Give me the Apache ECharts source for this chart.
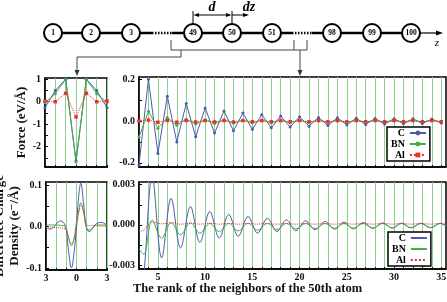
<!DOCTYPE html>
<html>
<head>
<meta charset="utf-8">
<script src="https://cdn.jsdelivr.net/npm/echarts@6/dist/echarts.min.js"></script>
<style>
html, body { margin: 0; padding: 0; background: #fff; }
#chart { width: 447px; height: 302px; }
</style>
</head>
<body>
<div id="chart"></div>
<script>
// ---- data ----
// force on the neighbours, rank relative to the 50th atom (left panels)
const nearRank = [-3, -2, -1, 0, 1, 2, 3];
const forceNearC = [-0.27, 0.5, 1.0, -2.62, 1.0, 0.5, -0.27];
const forceNearBN = [-0.05, 0.35, 1.0, -2.68, 1.0, 0.35, -0.05];
const forceNearAl = [0.03, 0.0, 0.37, -0.68, 0.37, 0.0, 0.03];

// force on far neighbours (right panel)
const farRank = [3, 4, 5, 6, 7, 8, 9, 10, 11, 12, 13, 14, 15, 16, 17, 18, 19, 20, 21, 22, 23, 24, 25, 26, 27, 28, 29, 30, 31, 32, 33, 34, 35];
const forceFarC = [-0.21, 0.199, -0.155, 0.118, -0.100, 0.083, -0.076, 0.062, -0.058, 0.048, -0.047, 0.038, -0.040, 0.030, -0.033, 0.024, -0.029, 0.020, -0.025, 0.017, -0.022, 0.015, -0.019, 0.013, -0.017, 0.012, -0.015, 0.011, -0.013, 0.010, -0.012, 0.009, -0.010];
const forceFarBN = [-0.077, 0.046, -0.035, 0.016, -0.021, 0.008, -0.015, 0.005, -0.012, 0.004, -0.010, 0.003, -0.009, 0.003, -0.008, 0.002, -0.007, 0.002, -0.007, 0.002, -0.006, 0.002, -0.006, 0.002, -0.005, 0.002, -0.005, 0.002, -0.005, 0.002, -0.004, 0.002, -0.004];
const forceFarAl = [0.0, 0.004, -0.006, 0.002, -0.006, 0.002, -0.005, 0.002, -0.005, 0.002, -0.005, 0.002, -0.004, 0.002, -0.004, 0.002, -0.004, 0.002, -0.004, 0.002, -0.004, 0.002, -0.004, 0.002, -0.004, 0.002, -0.004, 0.002, -0.004, 0.002, -0.004, 0.002, -0.004];

// difference charge density near the 50th atom
const chargeNearX = [-3, -2.6, -2.2, -1.6, -1.1, -0.8, -0.5, -0.25, 0, 0.2, 0.42, 0.7, 0.95, 1.25, 1.6, 2.0, 2.5, 3];
const chargeNearC = [-0.002, -0.006, 0.0, 0.014, 0.002, -0.055, -0.1, -0.065, 0.0, 0.07, 0.105, 0.055, 0.0, -0.012, -0.004, 0.008, 0.01, 0.002];
const chargeNearBN = [0.004, 0.004, 0.004, 0.003, 0.0, -0.025, -0.046, -0.03, 0.012, 0.035, 0.058, 0.035, 0.0, -0.008, -0.002, 0.004, 0.004, 0.003];
const chargeNearAl = [0.0, -0.001, -0.002, -0.003, -0.006, -0.025, -0.042, -0.03, 0.0, 0.03, 0.053, 0.035, 0.006, 0.002, 0.003, 0.002, 0.001, 0.0];

// difference charge density far away (extrema)
const chargeFarX = [3, 3.5, 4.4, 5.4, 6.4, 7.4, 8.45, 9.45, 10.5, 11.5, 12.5, 13.5, 14.55, 15.55, 16.6, 17.6, 18.6, 19.6, 20.65, 21.65, 22.7, 23.7, 24.7, 25.7, 26.75, 27.75, 28.8, 29.8, 30.8, 31.8, 32.85, 33.85, 34.9, 35.5];
const chargeFarC = [-0.006, -0.0038, 0.0036, -0.00247, 0.00198, -0.00173, 0.00136, -0.00131, 0.00099, -0.00099, 0.00079, -0.00086, 0.00062, -0.00062, 0.00049, -0.0005, 0.00037, -0.00044, 0.0003, -0.00037, 0.00025, -0.00032, 0.0002, -0.0003, 0.00017, -0.00027, 0.00015, -0.00025, 0.00013, -0.00023, 0.00012, -0.00022, 0.00012, -0.0001];
const chargeFarBN = [-0.0018, -0.0022, 0.00035, -0.001, 0.00017, -0.00075, 0.00015, -0.00062, 0.0001, -0.0005, 0.0001, -0.00045, 0.0001, -0.0004, 0.0001, -0.00035, 0.0001, -0.0003, 0.0001, -0.00028, 0.0001, -0.00026, 0.0001, -0.00025, 0.0001, -0.00024, 0.0001, -0.00023, 0.0001, -0.00022, 0.0001, -0.00021, 0.0001, -0.0001];
const chargeFarAl = [-0.0005, -0.0004, 0.0002, 0.00008, 0.00015, 0.00005, 0.00012, 0.00005, 0.00012, 0.00005, 0.0001, 0.00005, 0.0001, 0.00005, 0.0001, 0.00005, 0.0001, 0.00005, 0.0001, 0.00005, 0.0001, 0.00005, 0.0001, 0.00005, 0.0001, 0.00005, 0.0001, 0.00005, 0.0001, 0.00005, 0.0001, 0.00005, 0.0001, 0.00005];

// tick labels
const nearLabelTicks = [-3, 0, 3];
const farLabelTicks = [5, 10, 15, 20, 25, 30, 35];
const forceNearTicks = [-2, -1, 0, 1];
const forceFarTicks = [-0.2, 0, 0.2];
const chargeNearTicks = [-0.1, 0, 0.1];
const chargeFarTicks = [-0.003, 0, 0.003];

const atomLabels = ['1', '2', '3', '49', '50', '51', '98', '99', '100'];

// ---- style ----
const FONT = '"Liberation Serif", "DejaVu Serif", serif';
const COL_C = '#4b5bab';
const COL_BN = '#44ae44';
const COL_AL = '#e8322e';
const COL_GRID = '#8ed08e';

const pairs = (xs, ys) => xs.map((x, i) => [x, ys[i]]);

const labelStyle = { fontFamily: FONT, fontWeight: 'bold', fontSize: 10, color: '#111' };

// green lines sit on every atom position, so the ticks go on every integer
function xAx(grid, min, max, ranks, labels) {
    return {
        type: 'value', gridIndex: grid, min: min, max: max, interval: 1,
        axisLine: { show: true, onZero: false, lineStyle: { color: '#000', width: 1.5 } },
        axisTick: { show: true, inside: true, length: 2, customValues: ranks, lineStyle: { color: '#000' } },
        axisLabel: labels ? Object.assign({ show: true, margin: 3, customValues: labels, showMinLabel: true, showMaxLabel: true,
            formatter: v => String(Math.abs(v)) }, labelStyle) : { show: false },
        splitLine: { show: true, lineStyle: { color: COL_GRID, width: 1 } }
    };
}

function yAx(grid, min, max, labels, digits, minor, name, nameGap) {
    const ax = {
        type: 'value', gridIndex: grid, min: min, max: max,
        axisLine: { show: true, onZero: false, lineStyle: { color: '#000', width: 1.5 } },
        axisTick: { show: true, inside: true, length: 3, customValues: minor, lineStyle: { color: '#000' } },
        axisLabel: Object.assign({ margin: 4, customValues: labels, formatter: v => v.toFixed(digits) }, labelStyle),
        splitLine: { show: false }
    };
    if (name) {
        ax.name = name;
        ax.nameLocation = 'middle';
        ax.nameRotate = 90;
        ax.nameGap = nameGap;
        ax.nameTextStyle = { fontFamily: FONT, fontWeight: 'bold', fontSize: 13, color: '#111', lineHeight: 15 };
    }
    return ax;
}

function lineSeries(name, xi, data, color, marker, dotted, smooth) {
    return {
        name: name, type: 'line', xAxisIndex: xi, yAxisIndex: xi, data: data,
        symbol: marker || 'none', symbolSize: marker === 'rect' ? 3.5 : 3,
        showSymbol: !!marker, smooth: smooth || false,
        lineStyle: { color: color, width: 1, type: dotted ? 'dotted' : 'solid' },
        itemStyle: { color: color },
        emphasis: { disabled: true },
        clip: true
    };
}

// ---- top schematic (chain of atoms) ----
const atomX = [53, 91, 131, 193, 232, 272, 332, 372, 411];
const chainY = 33;
const thin = { stroke: '#444', lineWidth: 1 };
const graphic = [];
function seg(x1, y1, x2, y2, style) {
    graphic.push({ type: 'line', shape: { x1, y1, x2, y2 }, style: style, silent: true });
}
function head(pts, fill) {
    graphic.push({ type: 'polygon', shape: { points: pts }, style: { fill: fill || '#000' }, silent: true });
}
const bond = { stroke: '#000', lineWidth: 2.5 };
const bondDot = { stroke: '#000', lineWidth: 2.5, lineDash: [1.5, 1.5] };
seg(53, chainY, 152, chainY, bond);
seg(152, chainY, 172, chainY, bondDot);
seg(172, chainY, 292, chainY, bond);
seg(292, chainY, 312, chainY, bondDot);
seg(312, chainY, 421, chainY, bond);
seg(421, chainY, 437, chainY, { stroke: '#000', lineWidth: 1.2 });
head([[443, chainY], [436, chainY - 2.5], [436, chainY + 2.5]]);
graphic.push({ type: 'text', x: 437, y: 43, silent: true,
    style: { text: 'z', font: 'italic 11px ' + FONT, fill: '#000', align: 'center', verticalAlign: 'middle' } });
atomX.forEach((x, i) => {
    graphic.push({ type: 'circle', shape: { cx: x, cy: chainY, r: 9 }, z: 10, silent: true,
        style: { fill: '#fff', stroke: '#000', lineWidth: 2 } });
    graphic.push({ type: 'text', x: x, y: chainY, z: 11, silent: true,
        style: { text: atomLabels[i], font: 'bold 7.5px ' + FONT, fill: '#000', align: 'center', verticalAlign: 'middle' } });
});
// d and dz markers
seg(193, 11, 193, 24, { stroke: '#000', lineWidth: 1 });
seg(232, 11, 232, 24, { stroke: '#000', lineWidth: 1 });
seg(197, 15, 228, 15, { stroke: '#000', lineWidth: 1 });
head([[193.5, 15], [199, 13], [199, 17]]);
head([[231.5, 15], [226, 13], [226, 17]]);
seg(232, 15, 244, 15, { stroke: '#000', lineWidth: 1 });
head([[249, 15], [243, 13], [243, 17]]);
graphic.push({ type: 'text', x: 212, y: 7, silent: true,
    style: { text: 'd', font: 'italic bold 14px ' + FONT, fill: '#000', align: 'center', verticalAlign: 'middle' } });
graphic.push({ type: 'text', x: 249, y: 7, silent: true,
    style: { text: 'dz', font: 'italic bold 14px ' + FONT, fill: '#000', align: 'center', verticalAlign: 'middle' } });
// brackets and arrows to the panels
graphic.push({ type: 'polyline', shape: { points: [[171, 40], [171, 50], [307, 50], [307, 40]] }, style: Object.assign({ fill: null }, thin), silent: true });
seg(294, 40, 294, 50, thin);
graphic.push({ type: 'polyline', shape: { points: [[181, 50], [181, 57], [77, 57], [77, 71]] }, style: Object.assign({ fill: null }, thin), silent: true });
head([[77, 76], [74.5, 70], [79.5, 70]], '#333');
seg(300, 50, 300, 71, thin);
head([[300, 76], [297.5, 70], [302.5, 70]], '#333');

const legendText = { fontFamily: FONT, fontWeight: 'bold', fontSize: 10, color: '#000', lineHeight: 10 };
function legendBox(names, left, top, lineOnly) {
    const lg = {
        data: names, left: left, top: top, orient: 'vertical', align: 'right',
        itemWidth: 16, itemHeight: 6, itemGap: 1, padding: [1, 3, 1, 4],
        borderColor: '#000', borderWidth: 1.5, backgroundColor: '#fff', borderRadius: 0,
        textStyle: legendText, formatter: n => n.trim(), selectedMode: false
    };
    // the charge curves have no markers, so hide the dot in their legend icons
    if (lineOnly) lg.itemStyle = { color: 'rgba(0,0,0,0)', borderColor: 'rgba(0,0,0,0)', borderWidth: 0 };
    return lg;
}

const chart = echarts.init(document.getElementById('chart'), null, { renderer: 'canvas' });
chart.setOption({
    animation: false,
    backgroundColor: '#fff',
    title: {
        text: 'The rank of the neighbors of the 50th atom', left: 133, top: 282, padding: 0,
        textStyle: { fontFamily: FONT, fontWeight: 'bold', fontSize: 12.5, color: '#111' }
    },
    legend: [legendBox(['C', 'BN', 'Al'], 387, 127, false), legendBox(['C ', 'BN ', 'Al '], 388, 232, true)],
    grid: [
        { left: 45, top: 78, width: 62, height: 89, show: true, borderColor: '#000', borderWidth: 1.5, outerBoundsMode: 'none' },
        { left: 139, top: 77, width: 307, height: 90, show: true, borderColor: '#000', borderWidth: 1.5, outerBoundsMode: 'none' },
        { left: 46, top: 182, width: 61, height: 88, show: true, borderColor: '#000', borderWidth: 1.5, outerBoundsMode: 'none' },
        { left: 139, top: 182, width: 307, height: 87, show: true, borderColor: '#000', borderWidth: 1.5, outerBoundsMode: 'none' }
    ],
    xAxis: [
        xAx(0, -3, 3, nearRank, null),
        xAx(1, 3, 35.5, farRank, null),
        xAx(2, -3, 3, nearRank, nearLabelTicks),
        xAx(3, 3, 35.5, farRank, farLabelTicks)
    ],
    yAxis: [
        yAx(0, -2.9, 1.05, forceNearTicks, 0, [-2.5, -2, -1.5, -1, -0.5, 0, 0.5, 1], 'Force (eV/Å)', 16),
        yAx(1, -0.22, 0.21, forceFarTicks, 1, [-0.2, -0.1, 0, 0.1, 0.2]),
        yAx(2, -0.105, 0.108, chargeNearTicks, 1, [-0.1, -0.05, 0, 0.05, 0.1], 'Difference Charge\nDensity (e⁻/Å)', 19),
        yAx(3, -0.0033, 0.0032, chargeFarTicks, 3, [-0.003, -0.0015, 0, 0.0015, 0.003])
    ],
    graphic: graphic,
    series: [
        lineSeries('C', 0, pairs(nearRank, forceNearC), COL_C, 'circle'),
        lineSeries('BN', 0, pairs(nearRank, forceNearBN), COL_BN, 'circle'),
        lineSeries('Al', 0, pairs(nearRank, forceNearAl), COL_AL, 'rect', true),
        lineSeries('C', 1, pairs(farRank, forceFarC), COL_C, 'circle'),
        lineSeries('BN', 1, pairs(farRank, forceFarBN), COL_BN, 'circle'),
        lineSeries('Al', 1, pairs(farRank, forceFarAl), COL_AL, 'rect', true),
        lineSeries('C ', 2, pairs(chargeNearX, chargeNearC), COL_C, null, false, 0.4),
        lineSeries('BN ', 2, pairs(chargeNearX, chargeNearBN), COL_BN, null, false, 0.4),
        lineSeries('Al ', 2, pairs(chargeNearX, chargeNearAl), COL_AL, null, true, 0.4),
        lineSeries('C ', 3, pairs(chargeFarX, chargeFarC), COL_C, null, false, 0.36),
        lineSeries('BN ', 3, pairs(chargeFarX, chargeFarBN), COL_BN, null, false, 0.36),
        lineSeries('Al ', 3, pairs(chargeFarX, chargeFarAl), COL_AL, null, true, 0.36)
    ]
});
</script>
</body>
</html>
